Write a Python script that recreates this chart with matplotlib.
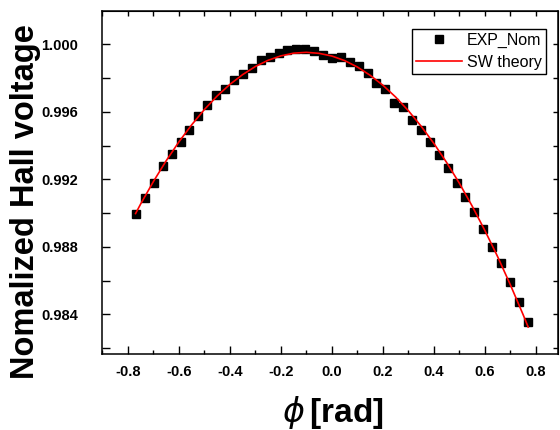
import numpy as np
import matplotlib
matplotlib.use("Agg")
import matplotlib.pyplot as plt
from matplotlib.ticker import MultipleLocator, FormatStrFormatter, NullFormatter

plt.rcParams['font.family'] = ['Liberation Sans', 'DejaVu Sans']
plt.rcParams['axes.unicode_minus'] = False
plt.rcParams['mathtext.fontset'] = 'dejavusans'

# measured points: -44 deg .. 44 deg in 2 deg steps (radians)
phi_exp = [-0.768, -0.733, -0.698, -0.663, -0.628, -0.593, -0.559, -0.524, -0.489,
           -0.454, -0.419, -0.384, -0.349, -0.314, -0.279, -0.244, -0.209, -0.175,
           -0.140, -0.105, -0.070, -0.035, 0.000, 0.035, 0.070, 0.105, 0.140,
           0.175, 0.209, 0.244, 0.279, 0.314, 0.349, 0.384, 0.419, 0.454,
           0.489, 0.524, 0.559, 0.593, 0.628, 0.663, 0.698, 0.733, 0.768]
v_exp = [0.98993, 0.99092, 0.99176, 0.99282, 0.99352, 0.99423, 0.99492, 0.99575, 0.99642,
         0.99702, 0.99735, 0.99790, 0.99824, 0.99863, 0.99908, 0.99928, 0.99947, 0.99965,
         0.99973, 0.99974, 0.99960, 0.99940, 0.99921, 0.99928, 0.99895, 0.99871, 0.99833,
         0.99774, 0.99734, 0.99655, 0.99628, 0.99553, 0.99493, 0.99423, 0.99342, 0.99270,
         0.99180, 0.99093, 0.99006, 0.98906, 0.98801, 0.98702, 0.98593, 0.98470, 0.98356]

# Stoner-Wohlfarth curve
phi_sw = [-0.77, -0.75, -0.70, -0.65, -0.60, -0.55, -0.50, -0.45, -0.40, -0.35, -0.30,
          -0.25, -0.20, -0.15, -0.10, -0.05, 0.00, 0.05, 0.10, 0.15, 0.20, 0.25,
          0.30, 0.35, 0.40, 0.45, 0.50, 0.55, 0.60, 0.65, 0.70, 0.75, 0.77]
v_sw = [0.98997, 0.99054, 0.99187, 0.99310, 0.99422, 0.99523, 0.99614, 0.99694, 0.99763,
        0.99821, 0.99869, 0.99906, 0.99932, 0.99948, 0.99953, 0.99947, 0.99931, 0.99904,
        0.99866, 0.99817, 0.99758, 0.99688, 0.99607, 0.99515, 0.99413, 0.99300, 0.99177,
        0.99042, 0.98897, 0.98742, 0.98575, 0.98398, 0.98324]

fig = plt.figure(figsize=(5.6, 4.3), dpi=100)
ax = fig.add_axes([0.182, 0.177, 0.814, 0.797])

ax.plot(phi_exp, v_exp, 's', color='black', markersize=5.5, label='EXP_Nom')
ax.plot(phi_sw, v_sw, '-', color='red', linewidth=1.2, label='SW theory')

ax.set_xlim(-0.902, 0.886)
ax.set_ylim(0.98165, 1.00197)

ax.xaxis.set_major_locator(MultipleLocator(0.2))
ax.xaxis.set_minor_locator(MultipleLocator(0.1))
ax.xaxis.set_major_formatter(FormatStrFormatter('%.1f'))
ax.yaxis.set_major_locator(MultipleLocator(0.004))
ax.yaxis.set_minor_locator(MultipleLocator(0.002))
ax.yaxis.set_major_formatter(FormatStrFormatter('%.3f'))

for s in ax.spines.values():
    s.set_linewidth(1.1)

ax.tick_params(axis='x', which='major', direction='in', length=6, width=1, pad=8,
               labelsize=10.5)
ax.tick_params(axis='x', which='minor', direction='in', length=3, width=1)
ax.tick_params(axis='y', which='both', direction='in', length=6, width=1, pad=17,
               labelsize=10.5)
for lab in ax.get_xticklabels() + ax.get_yticklabels():
    lab.set_fontweight('bold')

# short ticks on top and right
top = ax.secondary_xaxis('top')
top.xaxis.set_major_locator(MultipleLocator(0.1))
top.xaxis.set_major_formatter(NullFormatter())
top.tick_params(direction='in', length=3.5, width=1)
right = ax.secondary_yaxis('right')
right.yaxis.set_major_locator(MultipleLocator(0.002))
right.yaxis.set_major_formatter(NullFormatter())
right.tick_params(direction='in', length=3.5, width=1)

fig.text(0.045, 0.532, 'Nomalized Hall voltage', rotation=90, ha='center', va='center',
         fontsize=23.5, fontweight='bold')
fig.text(0.595, 0.04, r'$\phi\,$[rad]', ha='center', va='center',
         fontsize=24, fontweight='bold')

leg = ax.legend(loc='upper right', bbox_to_anchor=(0.974, 0.948), fontsize=11.5,
                frameon=True, fancybox=False, framealpha=1, edgecolor='black',
                borderaxespad=0, borderpad=0.25, labelspacing=0.4,
                handlelength=2.9, handletextpad=0.3, numpoints=1)
leg.get_frame().set_linewidth(1.0)

fig.savefig('out.png', dpi=100)
